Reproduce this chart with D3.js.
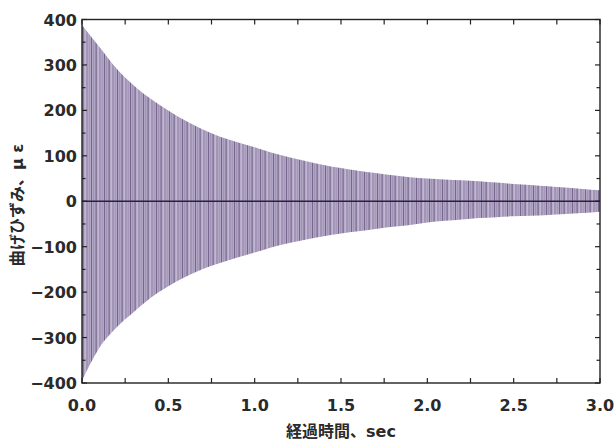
<!DOCTYPE html>
<html>
<head>
<meta charset="utf-8">
<script src="https://cdn.jsdelivr.net/npm/d3@7/dist/d3.min.js"></script>
<style>
  body { margin: 0; background: #fff; }
  svg { display: block; }
  text { font-family: "DejaVu Sans", "Noto Sans CJK JP", sans-serif; fill: #2a2a2a; }
</style>
</head>
<body>
<div class="svg-container"></div>
<script>
// envelope of the damped signal, every 0.1 sec
var times = [0.0, 0.1, 0.2, 0.3, 0.4, 0.5, 0.6, 0.7, 0.8, 0.9, 1.0,
  1.1, 1.2, 1.3, 1.4, 1.5, 1.6, 1.7, 1.8, 1.9, 2.0,
  2.1, 2.2, 2.3, 2.4, 2.5, 2.6, 2.7, 2.8, 2.9, 3.0];
var upperPeaks = [388, 340, 292, 255, 225, 200, 177, 158, 142, 130, 119,
  107, 97, 88, 80, 73, 67, 62, 57, 53, 50,
  48, 46, 44, 41, 38, 36, 33, 30, 27, 24];
var lowerPeaks = [-395, -323, -278, -244, -212, -187, -166, -149, -136, -124, -113,
  -101, -92, -84, -77, -71, -66, -61, -56, -52, -47,
  -43, -40, -37, -35, -33, -32, -30, -28, -26, -23];

var xTicks = [0, 0.5, 1.0, 1.5, 2.0, 2.5, 3.0];
var yTicks = [-400, -300, -200, -100, 0, 100, 200, 300, 400];
var xLabel = "経過時間、sec";
var yLabel = "曲げひずみ、μ ε";

var width = 614, height = 442;
// note: "top" is taken by window.top, so prefix everything
var plotLeft = 82, plotRight = 600, plotTop = 19.5, plotBottom = 383;

var svg = d3.select(".svg-container").append("svg")
  .attr("width", width).attr("height", height);

var x = d3.scaleLinear().domain([0, 3]).range([plotLeft, plotRight]);
var y = d3.scaleLinear().domain([-400, 400]).range([plotBottom, plotTop]);

// stripe texture standing in for the dense oscillation
var stripes = [
  {x: 0, w: 1, c: "#76668f"},
  {x: 2.4, w: 0.7, c: "#9486aa"},
  {x: 4.6, w: 1, c: "#6c5d86"},
  {x: 6.8, w: 0.8, c: "#cbc2d8"},
  {x: 8.6, w: 0.8, c: "#8a7ca1"},
  {x: 11.3, w: 0.6, c: "#9e91b2"}
];
var defs = svg.append("defs");
var pat = defs.append("pattern")
  .attr("id", "osc")
  .attr("patternUnits", "userSpaceOnUse")
  .attr("width", 13).attr("height", 10);
pat.append("rect").attr("width", 13).attr("height", 10).attr("fill", "#b2a6c5");
stripes.forEach(s => {
  pat.append("rect").attr("x", s.x).attr("width", s.w).attr("height", 10).attr("fill", s.c);
});

var rows = times.map((t, i) => ({t: t, hi: upperPeaks[i], lo: lowerPeaks[i]}));

var area = d3.area()
  .x(d => x(d.t))
  .y0(d => y(d.lo))
  .y1(d => y(d.hi))
  .curve(d3.curveMonotoneX);

svg.append("path")
  .datum(rows)
  .attr("d", area)
  .attr("fill", "url(#osc)");

// zero line
svg.append("line")
  .attr("x1", plotLeft).attr("x2", plotRight)
  .attr("y1", y(0)).attr("y2", y(0))
  .attr("stroke", "#2a2142").attr("stroke-width", 1.6);

// ticks, inward on all four sides
var minorX = d3.range(0, 3.001, 0.25);
var minorY = d3.range(-400, 401, 50);
var tickG = svg.append("g").attr("stroke", "#222").attr("stroke-width", 1.2);

minorX.forEach(t => {
  var len = 5;
  tickG.append("line").attr("x1", x(t)).attr("x2", x(t)).attr("y1", plotBottom).attr("y2", plotBottom - len);
  tickG.append("line").attr("x1", x(t)).attr("x2", x(t)).attr("y1", plotTop).attr("y2", plotTop + len);
});
minorY.forEach(v => {
  var len = v % 100 === 0 ? 5 : 3.5;
  tickG.append("line").attr("x1", plotLeft).attr("x2", plotLeft + len).attr("y1", y(v)).attr("y2", y(v));
  tickG.append("line").attr("x1", plotRight).attr("x2", plotRight - len).attr("y1", y(v)).attr("y2", y(v));
});

// frame
svg.append("rect")
  .attr("x", plotLeft).attr("y", plotTop)
  .attr("width", plotRight - plotLeft).attr("height", plotBottom - plotTop)
  .attr("fill", "none").attr("stroke", "#222").attr("stroke-width", 1.4);

// tick labels
svg.append("g").selectAll("text")
  .data(xTicks).enter().append("text")
  .attr("x", d => x(d))
  .attr("y", 411)
  .attr("text-anchor", "middle")
  .attr("font-size", 16).attr("font-weight", "bold")
  .text(d => d.toFixed(1));

svg.append("g").selectAll("text")
  .data(yTicks).enter().append("text")
  .attr("x", 77)
  .attr("y", d => y(d) + 6)
  .attr("text-anchor", "end")
  .attr("font-size", 16).attr("font-weight", "bold")
  .text(d => d < 0 ? "\u2212" + Math.abs(d) : d);

// axis titles
svg.append("text")
  .attr("x", (plotLeft + plotRight) / 2)
  .attr("y", 437)
  .attr("text-anchor", "middle")
  .attr("font-size", 16).attr("font-weight", "bold")
  .text(xLabel);

svg.append("text")
  .attr("transform", "translate(23," + 205 + ") rotate(-90)")
  .attr("text-anchor", "middle")
  .attr("font-size", 16).attr("font-weight", "bold")
  .text(yLabel);
</script>
</body>
</html>
